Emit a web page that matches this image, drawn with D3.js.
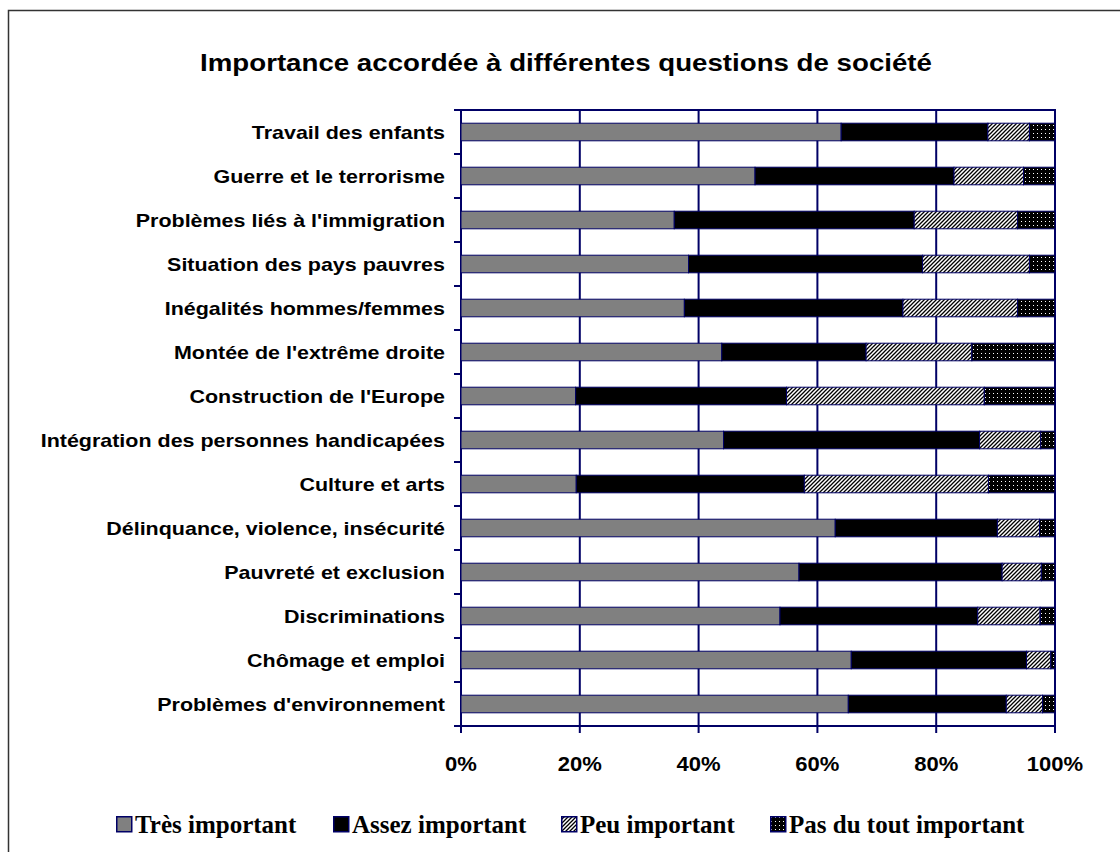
<!DOCTYPE html>
<html>
<head>
<meta charset="utf-8">
<script src="https://cdn.jsdelivr.net/npm/d3@7"></script>
<style>
  body { margin: 0; background: #ffffff; }
  svg { display: block; }
</style>
</head>
<body>
<svg id="chart" width="1120" height="852"></svg>
<script>
(function() {
  var categories = [
    "Travail des enfants",
    "Guerre et le terrorisme",
    "Problèmes liés à l'immigration",
    "Situation des pays pauvres",
    "Inégalités hommes/femmes",
    "Montée de l'extrême droite",
    "Construction de l'Europe",
    "Intégration des personnes handicapées",
    "Culture et arts",
    "Délinquance, violence, insécurité",
    "Pauvreté et exclusion",
    "Discriminations",
    "Chômage et emploi",
    "Problèmes d'environnement"
  ];
  var seriesNames = ["Très important", "Assez important", "Peu important", "Pas du tout important"];
  var tresImportant   = [64.0, 49.5, 35.9, 38.3, 37.6, 43.9, 19.3, 44.2, 19.4, 63.0, 56.9, 53.7, 65.7, 65.2];
  var assezImportant  = [24.7, 33.5, 40.4, 39.4, 36.8, 24.3, 35.5, 43.1, 38.4, 27.3, 34.2, 33.3, 29.5, 26.6];
  var peuImportant    = [ 7.0, 11.7, 17.4, 18.0, 19.3, 17.8, 33.3, 10.3, 31.0,  7.1,  6.6, 10.5,  4.1,  6.1];
  var pasDuTout       = [ 4.3,  5.3,  6.3,  4.3,  6.3, 14.0, 11.9,  2.4, 11.2,  2.6,  2.3,  2.5,  0.7,  2.1];
  var xTickValues = [0, 0.2, 0.4, 0.6, 0.8, 1];

  var navy = "#000066";
  var stretch = 1.13; // the original text is slightly wider than Arial
  var chart = d3.select("#chart");
  var defs = chart.append("defs");

  // diagonal hatch for "Peu important"
  var hatch = defs.append("pattern")
    .attr("id", "hatch")
    .attr("patternUnits", "userSpaceOnUse")
    .attr("width", 4)
    .attr("height", 4);
  hatch.append("rect").attr("width", 4).attr("height", 4).attr("fill", "#ffffff");
  hatch.append("path")
    .attr("d", "M-1,1 l2,-2 M0,4 l4,-4 M3,5 l2,-2")
    .attr("stroke", "#000000")
    .attr("stroke-width", 1.3);

  // dotted black for "Pas du tout important"
  var dots = defs.append("pattern")
    .attr("id", "dots")
    .attr("patternUnits", "userSpaceOnUse")
    .attr("width", 4)
    .attr("height", 4);
  dots.append("rect").attr("width", 4).attr("height", 4).attr("fill", "#000000");
  dots.append("rect").attr("x", 1).attr("y", 1).attr("width", 1).attr("height", 1).attr("fill", "#ffffff");

  var fills = ["#808080", "#000000", "url(#hatch)", "url(#dots)"];

  // outer frame
  chart.append("rect")
    .attr("x", 8.5)
    .attr("y", 10.5)
    .attr("width", 1130)
    .attr("height", 860)
    .attr("fill", "none")
    .attr("stroke", "#333333")
    .attr("stroke-width", 1.5);

  chart.append("text")
    .attr("transform", "translate(566,71) scale(" + stretch + ",1)")
    .attr("text-anchor", "middle")
    .attr("font-family", "Liberation Sans, Arial, sans-serif")
    .attr("font-weight", "bold")
    .attr("font-size", 24.5)
    .attr("fill", "#000000")
    .text("Importance accordée à différentes questions de société");

  var x0 = 461, x1 = 1055, y0 = 110, y1 = 726;
  var x = d3.scaleLinear().domain([0, 1]).range([x0, x1]);
  var y = d3.scaleBand().domain(categories).range([y0, y1]).paddingInner(0.6).paddingOuter(0.3);

  var rows = categories.map(function(c, i) {
    return { category: c, values: [tresImportant[i], assezImportant[i], peuImportant[i], pasDuTout[i]] };
  });
  var stack = d3.stack().keys([0, 1, 2, 3]).value(function(d, k) {
    var total = d3.sum(d.values);
    return d.values[k] / total;
  });
  var series = stack(rows);

  // vertical gridlines
  chart.append("g")
    .selectAll("line")
    .data(xTickValues)
    .enter().append("line")
    .attr("x1", function(d) { return x(d) })
    .attr("x2", function(d) { return x(d) })
    .attr("y1", y0)
    .attr("y2", y1)
    .attr("stroke", navy)
    .attr("stroke-width", 2);

  // plot border
  chart.append("rect")
    .attr("x", x0)
    .attr("y", y0)
    .attr("width", x1 - x0)
    .attr("height", y1 - y0)
    .attr("fill", "none")
    .attr("stroke", navy)
    .attr("stroke-width", 2);

  chart.append("g")
    .selectAll("g")
    .data(series)
    .enter().append("g")
    .attr("fill", function(d, i) { return fills[i] })
    .selectAll("rect")
    .data(function(d) { return d })
    .enter().append("rect")
    .attr("x", function(d) { return x(d[0]) })
    .attr("y", function(d) { return y(d.data.category) })
    .attr("width", function(d) { return x(d[1]) - x(d[0]) })
    .attr("height", y.bandwidth())
    .attr("stroke", navy)
    .attr("stroke-width", 1);

  // y axis ticks at band boundaries
  var yTicks = d3.range(categories.length + 1).map(function(i) { return y0 + i * y.step() });
  chart.append("g")
    .selectAll("line")
    .data(yTicks)
    .enter().append("line")
    .attr("x1", x0 - 7)
    .attr("x2", x0)
    .attr("y1", function(d) { return d })
    .attr("y2", function(d) { return d })
    .attr("stroke", navy)
    .attr("stroke-width", 2);

  chart.append("g")
    .attr("font-family", "Liberation Sans, Arial, sans-serif")
    .attr("font-weight", "bold")
    .attr("font-size", 19)
    .attr("text-anchor", "end")
    .selectAll("text")
    .data(categories)
    .enter().append("text")
    .attr("transform", function(d) {
      return "translate(" + (x0 - 16) + "," + (y(d) + y.bandwidth() / 2) + ") scale(" + stretch + ",1)";
    })
    .attr("dy", "0.35em")
    .text(function(d) { return d });

  // x axis ticks and labels
  chart.append("g")
    .selectAll("line")
    .data(xTickValues)
    .enter().append("line")
    .attr("x1", function(d) { return x(d) })
    .attr("x2", function(d) { return x(d) })
    .attr("y1", y1)
    .attr("y2", y1 + 7)
    .attr("stroke", navy)
    .attr("stroke-width", 2);

  chart.append("g")
    .attr("font-family", "Liberation Sans, Arial, sans-serif")
    .attr("font-weight", "bold")
    .attr("font-size", 19.5)
    .attr("text-anchor", "middle")
    .selectAll("text")
    .data(xTickValues)
    .enter().append("text")
    .attr("transform", function(d) { return "translate(" + x(d) + ",771) scale(" + stretch + ",1)" })
    .text(function(d) { return d3.format(".0%")(d) });

  // legend
  var legendX = [116, 333, 561, 770];
  var legend = chart.append("g")
    .selectAll("g")
    .data(seriesNames)
    .enter().append("g")
    .attr("transform", function(d, i) { return "translate(" + legendX[i] + ",816)" });
  legend.append("rect")
    .attr("x", 0.75)
    .attr("y", 0.75)
    .attr("width", 15)
    .attr("height", 15)
    .attr("fill", function(d, i) { return fills[i] })
    .attr("stroke", navy)
    .attr("stroke-width", 1.5);
  legend.append("text")
    .attr("x", 19)
    .attr("y", 17)
    .attr("font-family", "Liberation Serif, Times New Roman, serif")
    .attr("font-weight", "bold")
    .attr("font-size", 25)
    .text(function(d) { return d });
})();
</script>
</body>
</html>
